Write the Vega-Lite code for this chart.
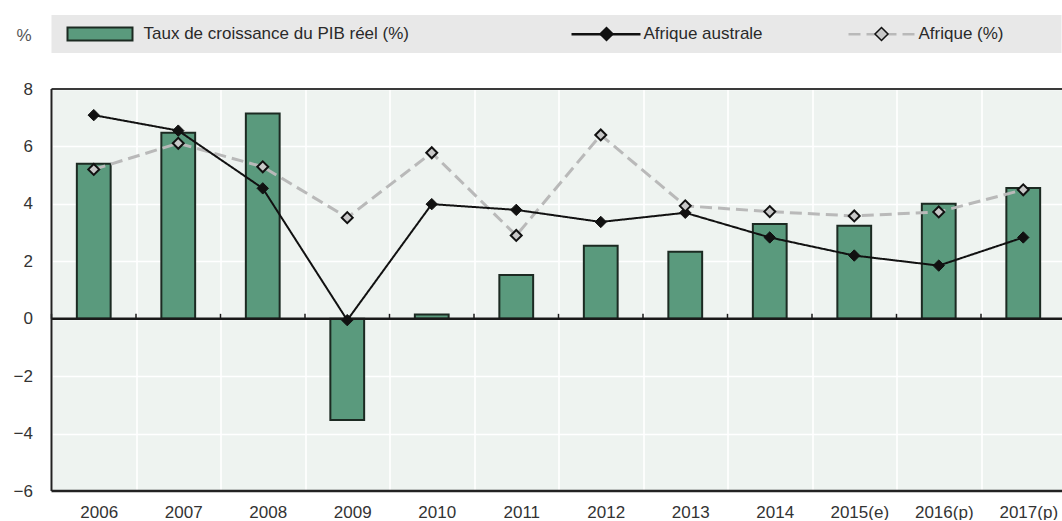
{
  "$schema": "https://vega.github.io/schema/vega-lite/v6.json",
  "padding": {"left": 12.5, "top": 15, "right": 0, "bottom": 0},
  "config": {
    "font": "Liberation Sans",
    "axis": {"labelFontSize": 17, "labelColor": "#333333", "gridColor": "#ffffff", "gridWidth": 1.6, "gridOpacity": 1, "ticks": false, "tickSize": 0, "domain": false},
    "legend": {"labelFontSize": 17, "labelColor": "#2a2a2a", "labelLimit": 500, "padding": 0}
  },
  "datasets": {
    "bars": [
      {"year": "2006", "series": "Taux de croissance du PIB réel (%)", "value": 5.4},
      {"year": "2007", "series": "Taux de croissance du PIB réel (%)", "value": 6.48},
      {"year": "2008", "series": "Taux de croissance du PIB réel (%)", "value": 7.15},
      {"year": "2009", "series": "Taux de croissance du PIB réel (%)", "value": -3.53},
      {"year": "2010", "series": "Taux de croissance du PIB réel (%)", "value": 0.15},
      {"year": "2011", "series": "Taux de croissance du PIB réel (%)", "value": 1.52},
      {"year": "2012", "series": "Taux de croissance du PIB réel (%)", "value": 2.54},
      {"year": "2013", "series": "Taux de croissance du PIB réel (%)", "value": 2.33},
      {"year": "2014", "series": "Taux de croissance du PIB réel (%)", "value": 3.3},
      {"year": "2015(e)", "series": "Taux de croissance du PIB réel (%)", "value": 3.24},
      {"year": "2016(p)", "series": "Taux de croissance du PIB réel (%)", "value": 4.0},
      {"year": "2017(p)", "series": "Taux de croissance du PIB réel (%)", "value": 4.55}
    ],
    "lines": [
      {"year": "2006", "series": "Afrique australe", "value": 7.09},
      {"year": "2007", "series": "Afrique australe", "value": 6.55},
      {"year": "2008", "series": "Afrique australe", "value": 4.54},
      {"year": "2009", "series": "Afrique australe", "value": -0.05},
      {"year": "2010", "series": "Afrique australe", "value": 3.99},
      {"year": "2011", "series": "Afrique australe", "value": 3.79},
      {"year": "2012", "series": "Afrique australe", "value": 3.37},
      {"year": "2013", "series": "Afrique australe", "value": 3.69},
      {"year": "2014", "series": "Afrique australe", "value": 2.83},
      {"year": "2015(e)", "series": "Afrique australe", "value": 2.2},
      {"year": "2016(p)", "series": "Afrique australe", "value": 1.85},
      {"year": "2017(p)", "series": "Afrique australe", "value": 2.83},
      {"year": "2006", "series": "Afrique (%)", "value": 5.2},
      {"year": "2007", "series": "Afrique (%)", "value": 6.11},
      {"year": "2008", "series": "Afrique (%)", "value": 5.29},
      {"year": "2009", "series": "Afrique (%)", "value": 3.52},
      {"year": "2010", "series": "Afrique (%)", "value": 5.78},
      {"year": "2011", "series": "Afrique (%)", "value": 2.9},
      {"year": "2012", "series": "Afrique (%)", "value": 6.4},
      {"year": "2013", "series": "Afrique (%)", "value": 3.93},
      {"year": "2014", "series": "Afrique (%)", "value": 3.73},
      {"year": "2015(e)", "series": "Afrique (%)", "value": 3.58},
      {"year": "2016(p)", "series": "Afrique (%)", "value": 3.72},
      {"year": "2017(p)", "series": "Afrique (%)", "value": 4.49}
    ]
  },
  "spacing": 36,
  "bounds": "flush",
  "vconcat": [
    {
      "width": 1010,
      "height": 38,
      "view": {"fill": "#e8e8e8", "stroke": null},
      "data": {"values": [{}]},
      "mark": {"type": "point", "opacity": 0}
    },
    {
      "width": 1014,
      "height": 402,
      "view": {"fill": "#eef3f0", "stroke": null},
      "layer": [
        {
          "data": {"name": "bars"},
          "mark": {"type": "bar", "width": {"band": 0.4}, "stroke": "#1c2a22", "strokeWidth": 2},
          "encoding": {
            "x": {"field": "year", "type": "ordinal", "title": null,
                  "scale": {"paddingInner": 0, "paddingOuter": 0},
                  "axis": {"tickBand": "extent", "grid": true, "labelAngle": 0, "labelPadding": 13, "labelOffset": 5, "domain": false, "ticks": false}},
            "y": {"field": "value", "type": "quantitative", "title": "%",
                  "scale": {"domain": [-6, 8], "nice": false, "zero": false},
                  "axis": {"values": [-6, -4, -2, 0, 2, 4, 6, 8], "titleAngle": 0, "titleX": -28, "titleY": -54, "titleAlign": "center", "titleBaseline": "middle", "titleFontSize": 17, "titleFontWeight": "normal", "titleColor": "#555555", "labelPadding": 19, "domain": false, "grid": true, "ticks": false}},
            "color": {"field": "series", "type": "nominal",
                      "scale": {"domain": ["Taux de croissance du PIB réel (%)"], "range": ["#5a9a7d"]},
                      "legend": {"orient": "none", "legendX": 16, "legendY": 10.5, "title": null,
                                 "symbolType": "M-1.7,-1.3H11.3V1.3H-1.7Z", "symbolSize": 100,
                                 "symbolStrokeColor": "#1c2a22", "symbolStrokeWidth": 2,
                                 "labelOffset": 59, "padding": 0, "labelLimit": 500,
                                 "encode": {"symbols": {"update": {"stroke": {"value": "#1c2a22"}, "strokeWidth": {"value": 2}, "opacity": {"value": 1}}}}}}
          }
        },
        {
          "data": {"values": [{}]},
          "mark": {"type": "rule", "color": "#1a1a1a", "strokeWidth": 2.5},
          "encoding": {"y": {"datum": 0, "type": "quantitative", "title": "%"}}
        },
        {
          "data": {"name": "bars"},
          "mark": {"type": "rule", "color": "#1a1a1a", "strokeWidth": 1.5},
          "encoding": {
            "x": {"field": "year", "type": "ordinal", "bandPosition": 0, "title": null},
            "y": {"datum": 0, "type": "quantitative", "title": "%"},
            "y2": {"datum": 0.17}
          }
        },
        {
          "data": {"values": [{}]},
          "mark": {"type": "rule", "color": "#3a3a3a", "strokeWidth": 2},
          "encoding": {"y": {"datum": 8, "type": "quantitative", "title": "%"}}
        },
        {
          "data": {"values": [{}]},
          "mark": {"type": "rule", "color": "#222222", "strokeWidth": 2.5},
          "encoding": {"y": {"datum": -6, "type": "quantitative", "title": "%"}}
        },
        {
          "data": {"values": [{}]},
          "mark": {"type": "rule", "color": "#222222", "strokeWidth": 2},
          "encoding": {"x": {"datum": "2006", "type": "ordinal", "bandPosition": 0, "title": null}}
        },
        {
          "data": {"name": "lines"},
          "transform": [{"filter": "datum.series === 'Afrique (%)'"}],
          "mark": {"type": "line", "strokeWidth": 3},
          "encoding": {
            "x": {"field": "year", "type": "ordinal", "title": null},
            "y": {"field": "value", "type": "quantitative", "title": "%"},
            "stroke": {"field": "series", "type": "nominal",
                       "scale": {"domain": ["Afrique australe", "Afrique (%)"], "range": ["#111111", "#b9b9b9"]},
                       "legend": {"orient": "none", "legendX": 520, "legendY": 10.5, "title": null, "direction": "horizontal", "columns": 2, "columnPadding": 80,
                                  "symbolType": "M-1.7,0H12.1", "symbolSize": 100, "symbolStrokeWidth": 2.5,
                                  "labelOffset": 55, "labelOpacity": 0, "padding": 0, "labelLimit": 500}},
            "strokeDash": {"field": "series", "type": "nominal",
                           "scale": {"domain": ["Afrique australe", "Afrique (%)"], "range": [[1, 0], [12, 6]]},
                           "legend": {"orient": "none", "legendX": 520, "legendY": 10.5, "title": null, "direction": "horizontal", "columns": 2, "columnPadding": 80,
                                      "symbolType": "M-1.7,0H12.1", "symbolSize": 100, "symbolStrokeWidth": 2.5,
                                      "labelOffset": 55, "labelOpacity": 0, "padding": 0, "labelLimit": 500}}
          }
        },
        {
          "data": {"name": "lines"},
          "transform": [{"filter": "datum.series === 'Afrique australe'"}],
          "mark": {"type": "line", "strokeWidth": 2},
          "encoding": {
            "x": {"field": "year", "type": "ordinal", "title": null},
            "y": {"field": "value", "type": "quantitative", "title": "%"},
            "stroke": {"field": "series", "type": "nominal"},
            "strokeDash": {"field": "series", "type": "nominal"}
          }
        },
        {
          "data": {"name": "lines"},
          "transform": [{"filter": "datum.series === 'Afrique australe'"}],
          "mark": {"type": "point", "shape": "diamond", "filled": true, "size": 130, "stroke": "#111111", "strokeWidth": 1, "opacity": 1},
          "encoding": {
            "x": {"field": "year", "type": "ordinal", "title": null},
            "y": {"field": "value", "type": "quantitative", "title": "%"},
            "fill": {"field": "series", "type": "nominal",
                     "scale": {"domain": ["Afrique (%)", "Afrique australe"], "range": ["#c8c8c8", "#111111"]},
                     "legend": {"orient": "none", "legendX": 520, "legendY": 10.5, "title": null, "direction": "horizontal", "columns": 2, "columnPadding": 80,
                                "values": ["Afrique australe", "Afrique (%)"],
                                "symbolType": "M-1.7,0M12.1,0M5.3,-1.3L6.6,0L5.3,1.3L4,0Z", "symbolSize": 100,
                                "symbolStrokeColor": "#111111", "symbolStrokeWidth": 1.5,
                                "labelOffset": 55, "padding": 0, "labelLimit": 500,
                                "encode": {"symbols": {"update": {"stroke": {"value": "#111111"}, "strokeWidth": {"value": 1.5}, "opacity": {"value": 1}}}}}}
          }
        },
        {
          "data": {"name": "lines"},
          "transform": [{"filter": "datum.series === 'Afrique (%)'"}],
          "mark": {"type": "point", "shape": "diamond", "filled": true, "size": 120, "stroke": "#111111", "strokeWidth": 2, "opacity": 1},
          "encoding": {
            "x": {"field": "year", "type": "ordinal", "title": null},
            "y": {"field": "value", "type": "quantitative", "title": "%"},
            "fill": {"field": "series", "type": "nominal"}
          }
        }
      ]
    }
  ]
}
